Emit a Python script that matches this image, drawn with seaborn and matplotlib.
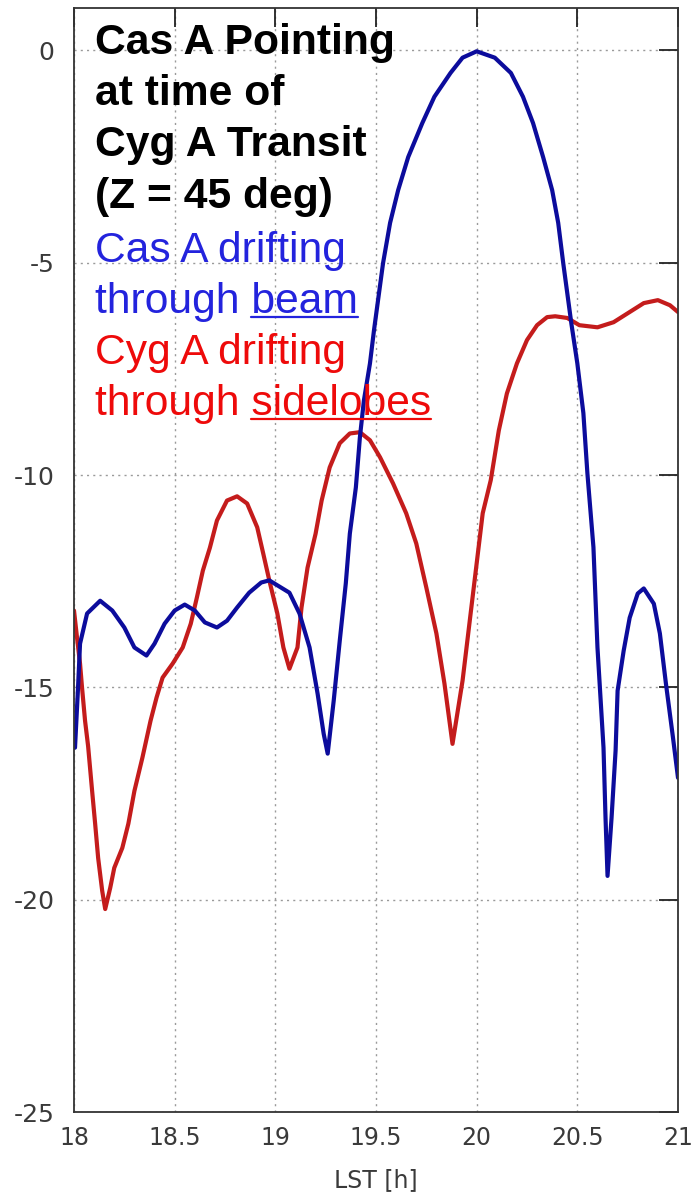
import numpy as np
import pandas as pd
import matplotlib
matplotlib.use("Agg")
import matplotlib.pyplot as plt
from matplotlib.lines import Line2D
import seaborn as sns

# Cas A drifting through the main beam (LST [h], relative response [dB])
cas_lst = [18.005, 18.02, 18.03, 18.065, 18.13, 18.19, 18.25, 18.30, 18.36, 18.40,
           18.45, 18.50, 18.55, 18.60, 18.65, 18.71, 18.76, 18.81, 18.87, 18.93,
           18.97, 19.07, 19.12, 19.17, 19.21, 19.24, 19.26, 19.29, 19.32, 19.35,
           19.37, 19.40, 19.42, 19.44, 19.47, 19.49, 19.535, 19.57, 19.61, 19.66,
           19.73, 19.79, 19.87, 19.93, 20.00, 20.09, 20.17, 20.23, 20.28, 20.33,
           20.375, 20.405, 20.43, 20.47, 20.50, 20.53, 20.55, 20.58, 20.60, 20.63,
           20.64, 20.65, 20.67, 20.69, 20.70, 20.73, 20.76, 20.80, 20.83, 20.88,
           20.91, 20.94, 20.975, 21.00]
cas_db = [-16.42, -15.01, -13.97, -13.26, -12.96, -13.19, -13.59, -14.06, -14.25, -13.97,
          -13.50, -13.19, -13.05, -13.19, -13.47, -13.59, -13.43, -13.12, -12.77, -12.53,
          -12.48, -12.77, -13.26, -14.06, -15.15, -16.09, -16.56, -15.31, -13.90, -12.55,
          -11.38, -10.29, -9.11, -8.24, -7.37, -6.59, -5.01, -4.06, -3.29, -2.51,
          -1.71, -1.09, -0.53, -0.17, -0.02, -0.17, -0.53, -1.09, -1.71, -2.51,
          -3.29, -4.06, -5.01, -6.42, -7.37, -8.54, -9.96, -11.70, -14.06, -16.42,
          -18.07, -19.44, -18.07, -16.49, -15.08, -14.14, -13.36, -12.79, -12.67, -13.03,
          -13.73, -14.91, -16.18, -17.13]

# Cyg A drifting through the sidelobes
cyg_lst = [18.00, 18.015, 18.03, 18.04, 18.055, 18.07, 18.09, 18.105, 18.12, 18.14,
           18.155, 18.18, 18.20, 18.24, 18.27, 18.30, 18.34, 18.38, 18.41, 18.44,
           18.49, 18.54, 18.58, 18.61, 18.64, 18.675, 18.71, 18.76, 18.81, 18.86,
           18.91, 18.94, 18.97, 19.01, 19.04, 19.07, 19.11, 19.13, 19.16, 19.20,
           19.23, 19.27, 19.32, 19.37, 19.42, 19.47, 19.52, 19.585, 19.65, 19.70,
           19.75, 19.80, 19.84, 19.88, 19.93, 19.97, 20.00, 20.03, 20.07, 20.11,
           20.15, 20.20, 20.25, 20.30, 20.35, 20.39, 20.45, 20.51, 20.60, 20.68,
           20.76, 20.83, 20.90, 20.96, 21.00]
cyg_db = [-13.19, -13.83, -14.44, -15.01, -15.79, -16.38, -17.44, -18.21, -19.02, -19.79,
          -20.22, -19.72, -19.25, -18.78, -18.21, -17.44, -16.65, -15.79, -15.24, -14.77,
          -14.44, -14.06, -13.50, -12.89, -12.25, -11.71, -11.07, -10.60, -10.50, -10.67,
          -11.23, -11.85, -12.48, -13.26, -14.06, -14.56, -14.06, -13.12, -12.18, -11.38,
          -10.60, -9.82, -9.25, -9.02, -8.99, -9.18, -9.58, -10.20, -10.90, -11.61,
          -12.65, -13.73, -14.91, -16.33, -14.84, -13.26, -12.08, -10.90, -10.12, -8.95,
          -8.08, -7.37, -6.82, -6.47, -6.28, -6.26, -6.30, -6.47, -6.52, -6.40,
          -6.16, -5.95, -5.88, -6.00, -6.16]

x_ticks = [18, 18.5, 19, 19.5, 20, 20.5, 21]
x_ticklabels = ["18", "18.5", "19", "19.5", "20", "20.5", "21"]
y_ticks = [0, -5, -10, -15, -20, -25]
y_ticklabels = ["0", "-5", "-10", "-15", "-20", "-25"]

title_lines = ["Cas A Pointing", "at time of", "Cyg A Transit", "(Z = 45 deg)"]

sns.set_style("white")
plt.rcParams["font.family"] = ["Liberation Sans", "DejaVu Sans"]

W, H = 691, 1194
fig = plt.figure(figsize=(W / 100, H / 100), dpi=100)
ax_l, ax_r, ax_t, ax_b = 74, 678, 8, 1112
ax = fig.add_axes([ax_l / W, (H - ax_b) / H, (ax_r - ax_l) / W, (ax_b - ax_t) / H])

cas = pd.DataFrame({"lst": cas_lst, "db": cas_db})
cyg = pd.DataFrame({"lst": cyg_lst, "db": cyg_db})

line_kw = dict(linewidth=3.0, estimator=None, sort=True,
               solid_joinstyle="round", solid_capstyle="round")
sns.lineplot(data=cyg, x="lst", y="db", ax=ax, color="#c41c1c", **line_kw)
sns.lineplot(data=cas, x="lst", y="db", ax=ax, color="#0c0c9c", **line_kw)

ax.set_xlim(18, 21)
ax.set_ylim(-25, 1)
ax.set_xticks(x_ticks)
ax.set_xticklabels(x_ticklabels)
ax.set_yticks(y_ticks)
ax.set_yticklabels(y_ticklabels)
ax.grid(True, color="#9a9a9a", linestyle=(0, (1.5, 3.0)), linewidth=1.0)
ax.set_axisbelow(True)

ax.tick_params(direction="in", length=14, width=1.3, color="#222222",
               top=True, right=True, labelcolor="#3a3a3a")
ax.tick_params(axis="y", pad=14, labelsize=18)
ax.tick_params(axis="x", pad=10, labelsize=17)
for lab in ax.get_xticklabels() + ax.get_yticklabels():
    lab.set_family("DejaVu Sans")
for sp in ax.spines.values():
    sp.set_color("#333333")
    sp.set_linewidth(1.3)

ax.set_xlabel("LST [h]", fontsize=17, color="#3a3a3a", family="DejaVu Sans", labelpad=13)
ax.set_ylabel("")


def frac_y(py):
    return (ax_b - py) / (ax_b - ax_t)


x0 = (95 - ax_l) / (ax_r - ax_l)
fs = 30.7
baselines = [54, 105, 156, 208]
for line, py in zip(title_lines, baselines):
    ax.text(x0, frac_y(py), line, transform=ax.transAxes, fontsize=fs,
            fontweight="bold", color="black", va="baseline", ha="left")

blue_txt = "#2323dd"
red_txt = "#ee0a0a"
ax.text(x0, frac_y(262), "Cas A drifting", transform=ax.transAxes, fontsize=fs,
        color=blue_txt, va="baseline", ha="left")
t_beam = ax.text(x0, frac_y(313), "through beam", transform=ax.transAxes, fontsize=fs,
                 color=blue_txt, va="baseline", ha="left")
ax.text(x0, frac_y(364), "Cyg A drifting", transform=ax.transAxes, fontsize=fs,
        color=red_txt, va="baseline", ha="left")
t_side = ax.text(x0, frac_y(415), "through sidelobes", transform=ax.transAxes, fontsize=fs,
                 color=red_txt, va="baseline", ha="left")

# underline the last word of each label
fig.canvas.draw()
renderer = fig.canvas.get_renderer()


def underline(text_artist, word, py, color):
    full = text_artist.get_window_extent(renderer)
    tmp = fig.text(0, 0, word, fontsize=fs)
    w = tmp.get_window_extent(renderer).width
    tmp.remove()
    x_end = full.x1
    x_start = x_end - w
    yy = (H - py) / H
    fig.add_artist(Line2D([x_start / fig.bbox.width, x_end / fig.bbox.width],
                          [yy, yy], transform=fig.transFigure, color=color, linewidth=1.6))


underline(t_beam, "beam", 317, blue_txt)
underline(t_side, "sidelobes", 419, red_txt)

fig.savefig("out.png", dpi=100)
